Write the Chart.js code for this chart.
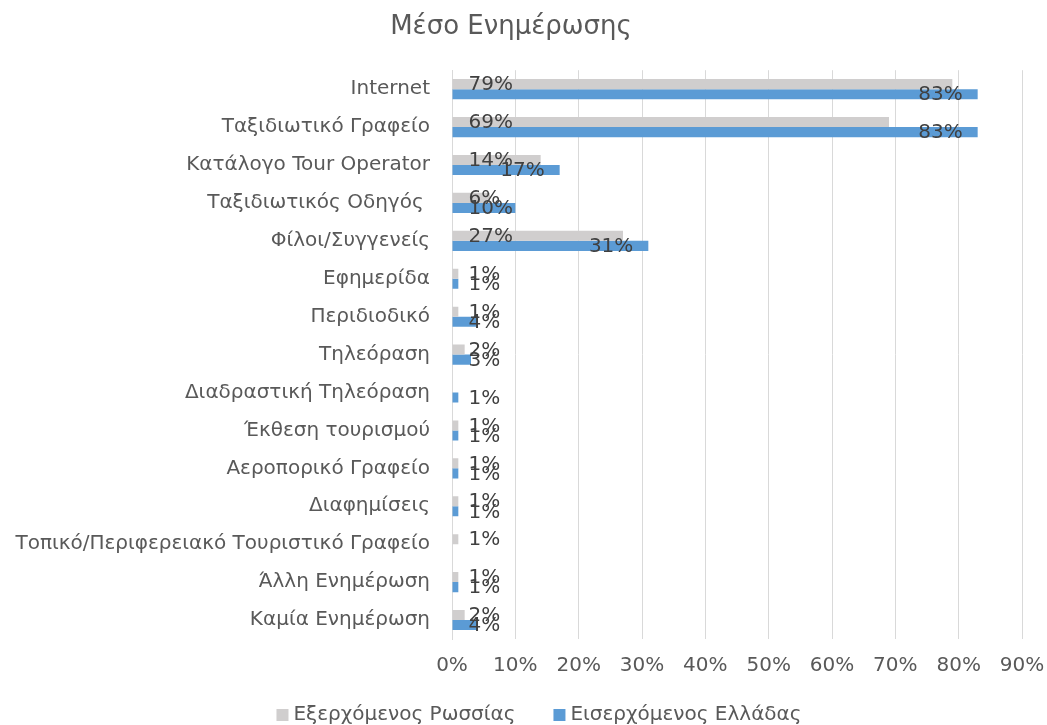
<!DOCTYPE html>
<html>
<head>
<meta charset="utf-8">
<script src="https://cdn.jsdelivr.net/npm/chart.js@4"></script>
<style>
  html, body { margin: 0; padding: 0; background: #fff; }
  #wrap { width: 1047px; height: 725px; }
</style>
</head>
<body>
<div id="wrap"><canvas id="mainChart" width="1047" height="725"></canvas></div>
<script>
const categories = [
    'Internet',
    'Ταξιδιωτικό Γραφείο',
    'Κατάλογο Tour Operator',
    'Ταξιδιωτικός Οδηγός ',
    'Φίλοι/Συγγενείς',
    'Εφημερίδα',
    'Περιδιοδικό',
    'Τηλεόραση',
    'Διαδραστική Τηλεόραση',
    'Έκθεση τουρισμού',
    'Αεροπορικό Γραφείο',
    'Διαφημίσεις',
    'Τοπικό/Περιφερειακό Τουριστικό Γραφείο',
    'Άλλη Ενημέρωση',
    'Καμία Ενημέρωση'
];
const russiaOut = [79, 69, 14, 6, 27, 1, 1, 2, 0, 1, 1, 1, 1, 1, 2];
const greeceIn = [83, 83, 17, 10, 31, 1, 4, 3, 1, 1, 1, 1, 0, 1, 4];
const seriesNames = ['Εξερχόμενος Ρωσσίας', 'Εισερχόμενος Ελλάδας'];
const seriesColors = ['#d0cece', '#5b9bd5'];
const xTicks = [0, 10, 20, 30, 40, 50, 60, 70, 80, 90];

const FONT = "'DejaVu Sans', sans-serif";
const textColor = '#595959';

// Excel-like data labels: grey ones at the bar base, blue ones inside the end
const barLabels = {
    id: 'barLabels',
    afterDatasetsDraw(chart) {
        const ctx = chart.ctx;
        ctx.save();
        ctx.font = '20px ' + FONT;
        ctx.fillStyle = '#404040';
        ctx.textBaseline = 'middle';
        ctx.textAlign = 'left';
        chart.data.datasets.forEach((ds, di) => {
            const meta = chart.getDatasetMeta(di);
            meta.data.forEach((bar, i) => {
                const v = ds.data[i];
                if (!v) return;
                const txt = v + '%';
                const w = ctx.measureText(txt).width;
                let left = bar.base + 16;
                if (di === 1) left = Math.max(bar.x - 15 - w, left);
                ctx.fillText(txt, left, bar.y + 1);
            });
        });
        ctx.restore();
    }
};

// legend drawn at the very bottom, spaced like the original
const bottomLegend = {
    id: 'bottomLegend',
    afterDraw(chart) {
        const ctx = chart.ctx;
        ctx.save();
        ctx.font = '20px ' + FONT;
        ctx.textBaseline = 'middle';
        ctx.textAlign = 'left';
        const box = 12, gap = 5, between = 38;
        const widths = chart.data.datasets.map(ds => ctx.measureText(ds.label).width);
        const total = widths.reduce((a, w) => a + box + gap + w, 0) + between;
        let x = 539 - total / 2;
        const y = 715;
        chart.data.datasets.forEach((ds, di) => {
            ctx.fillStyle = ds.backgroundColor;
            ctx.fillRect(x, y - box / 2, box, box);
            ctx.fillStyle = textColor;
            ctx.fillText(ds.label, x + box + gap, y);
            x += box + gap + widths[di] + between;
        });
        ctx.restore();
    }
};

const ctx = document.getElementById('mainChart').getContext('2d');
new Chart(ctx, {
    type: 'bar',
    data: {
        labels: categories,
        datasets: [{
            label: seriesNames[0],
            data: russiaOut,
            backgroundColor: seriesColors[0],
            categoryPercentage: 0.53,
            barPercentage: 1
        }, {
            label: seriesNames[1],
            data: greeceIn,
            backgroundColor: seriesColors[1],
            categoryPercentage: 0.53,
            barPercentage: 1
        }]
    },
    options: {
        indexAxis: 'y',
        responsive: false,
        animation: false,
        layout: { padding: { left: 0, right: 25, top: 0, bottom: 46 } },
        plugins: {
            title: {
                display: true,
                text: 'Μέσο Ενημέρωσης',
                color: textColor,
                font: { family: FONT, size: 26, weight: 'normal' },
                padding: { top: 12, bottom: 27 }
            },
            legend: { display: false },
            tooltip: { enabled: false }
        },
        scales: {
            x: {
                min: 0,
                max: 90,
                afterBuildTicks(scale) {
                    scale.ticks = xTicks.map(v => ({ value: v }));
                },
                afterFit(scale) {
                    scale.height = 40;
                    scale.paddingLeft = 0;
                    scale.paddingRight = 0;
                },
                grid: { color: '#d9d9d9', drawTicks: false },
                border: { display: false },
                ticks: {
                    color: textColor,
                    font: { family: FONT, size: 20 },
                    padding: 15,
                    callback: v => v + '%'
                }
            },
            y: {
                afterFit(scale) {
                    scale.width = 452;
                    scale.paddingTop = 0;
                    scale.paddingBottom = 0;
                },
                grid: { display: false, drawTicks: false },
                border: { display: true, color: '#d9d9d9' },
                ticks: {
                    color: textColor,
                    font: { family: FONT, size: 20 },
                    padding: 22,
                    autoSkip: false
                }
            }
        }
    },
    plugins: [barLabels, bottomLegend]
});
</script>
</body>
</html>
